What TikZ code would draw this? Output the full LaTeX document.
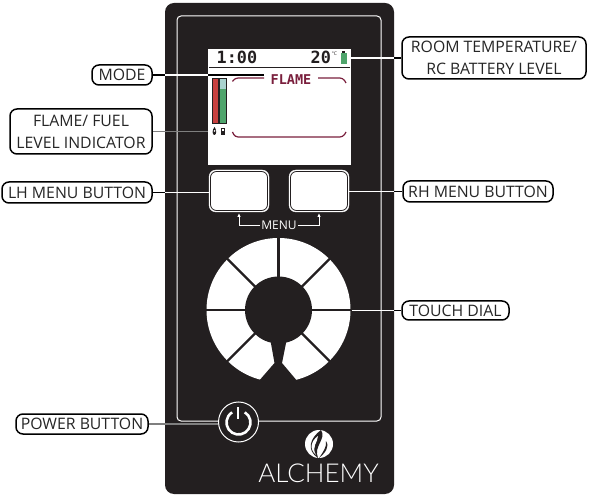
\documentclass[tikz,border=0pt]{standalone}
\usepackage{fontspec}
\usetikzlibrary{arrows.meta}
\setmainfont{Open Sans}
\newfontfamily\lcdfont{DejaVu Sans Mono}
\newfontfamily\logofont{Lato Light}
\definecolor{panel}{HTML}{231F20}
\definecolor{maroon}{HTML}{7A1F3D}
\definecolor{barred}{HTML}{C8403F}
\definecolor{bargreen}{HTML}{4FA56C}
\definecolor{barteal}{HTML}{A9D3CF}
\definecolor{leader}{HTML}{7F7F7F}
\tikzset{
  callout/.style={draw=black,line width=1.5pt,rounded corners=7pt,fill=white,inner sep=0pt,align=center,font=\fontsize{15.8}{22}\selectfont,text=black!85},
  blackline/.style={draw=black,line width=1.1pt},
  whiteline/.style={draw=white,line width=1.1pt},
  greyline/.style={draw=leader,line width=1.3pt},
  softkey/.style={draw=white,fill=white,rounded corners=7pt,minimum width=60pt,minimum height=42pt,inner sep=0pt},
  lcd/.style={font=\lcdfont\bfseries\fontsize{16.8}{17}\selectfont,inner sep=0pt,text=panel},
  frameline/.style={draw=maroon,line width=1.2pt,rounded corners=3pt},
}
\begin{document}
\begin{tikzpicture}[x=1pt,y=-1pt]
\useasboundingbox (0,0) rectangle (597,502);
% body
\fill[white] (0,0) rectangle (597,502);
\node[draw=none,fill=panel,rounded corners=9pt,minimum width=229pt,minimum height=491pt,inner sep=0pt] (body) at (279.5,248.5) {};
\node[draw=white,line width=1pt,rounded corners=4pt,minimum width=204pt,minimum height=405pt,inner sep=0pt] (inner) at (279,218.5) {};
% screen
\node[fill=white,minimum width=143pt,minimum height=116pt,inner sep=0pt] (screen) at (279.5,107) {};
\node[lcd,anchor=base west] (clock) at (216.5,64) {1:00};
\node[lcd,anchor=base west] (temp) at (310.5,64) {20};
\node[inner sep=0pt,font=\fontsize{5}{5}\selectfont,text=panel] (deg) at (334.5,53.5) {°C};
\fill[bargreen] (340.5,53) rectangle (346.5,64);
\fill[panel] (342,51.5) rectangle (345,53);
\draw[panel,line width=1.5pt] (209,67.5) -- (350,67.5);
\node[inner sep=0pt,text=maroon,font=\lcdfont\bfseries\fontsize{13.5}{14}\selectfont] (flame) at (291,79.5) {FLAME};
\draw[frameline] (264,78) -- (235,78) -- (232.5,81.5);
\draw[frameline] (318,78) -- (343,78) -- (346,83);
\draw[frameline] (232.5,132) -- (235,137) -- (343,137) -- (346,132);
\draw[panel,line width=.6pt,fill=barred] (212.5,78.5) rectangle (218.5,123);
\draw[panel,line width=.6pt,fill=bargreen] (219.5,78.5) rectangle (226,123);
\fill[barteal] (219.9,78.9) rectangle (225.6,89);
\fill[panel] (214.5,127) .. controls (216.5,130) and (217,134) .. (214.5,135) .. controls (212,135) and (212,130) .. (214.5,127) -- cycle;
\fill[white] (214.6,131) circle (.9pt);
\fill[panel] (221,128) rectangle (225,135);
\fill[white] (222,129) rectangle (224,131);
% soft keys
\node[softkey] (lh) at (239,191) {};
\node[softkey] (rh) at (319,191) {};
\draw[panel,line width=.8pt,rounded corners=6pt] (210.5,171.5) rectangle (267.5,210.5);
\draw[panel,line width=.8pt,rounded corners=6pt] (290.5,171.5) rectangle (347.5,210.5);
\node[inner sep=1pt,text=white,font=\fontsize{12}{12}\selectfont] (menu) at (279,225) {MENU};
\draw[white,line width=.8pt,-{Latex[length=4pt,width=3.5pt]}] (menu.west) -- (239,225) -- (239,213);
\draw[white,line width=.8pt,-{Latex[length=4pt,width=3.5pt]}] (menu.east) -- (319,225) -- (319,213);
% dial
\coordinate (dialc) at (278.5,310);
\fill[white] (dialc) circle (72);
\foreach \a in {0,45,135,180,225,270,315}{
  \draw[panel,line width=2.4pt] (dialc) -- ++(\a:73);
}
\fill[panel] (dialc) circle (33.5);
\fill[panel] (270,338) -- (274.5,363) -- (258,382) -- (298,382) -- (282,363) -- (287,338) -- cycle;
% power
\node[circle,draw=white,fill=panel,line width=1pt,minimum size=40pt,inner sep=0pt] (power) at (238.5,422) {};
\draw[white,line width=2.6pt] (238.5,422.5)++(-58:12) arc (-58:238:12);
\draw[white,line width=2.4pt] (238,407.5) -- (238,419);
% logo
\fill[white] (319,444) circle (14);
\fill[panel] (321,430) .. controls (327,439) and (313,446) .. (318,458) .. controls (306,450) and (310,438) .. (321,430) -- cycle;
\fill[white] (318,436) .. controls (318,442) and (311,447) .. (316,455) .. controls (309,449) and (311,441) .. (318,436) -- cycle;
\fill[panel] (326,441) .. controls (330,447) and (325,453) .. (319,458) .. controls (323,452) and (327,447) .. (326,441) -- cycle;
\node[inner sep=0pt,text=white,font=\logofont\fontsize{26}{26}\selectfont] (logo) at (318.5,473) {ALCHEMY};
% callouts
\node[callout,minimum width=60pt,minimum height=20pt] (mode) at (122,75) {MODE};
\node[callout,minimum width=142pt,minimum height=45pt] (level) at (81,131.5) {FLAME/ FUEL\\LEVEL INDICATOR};
\node[callout,minimum width=150pt,minimum height=21pt] (lhl) at (77,192.5) {LH MENU BUTTON};
\node[callout,minimum width=184pt,minimum height=42pt] (room) at (494,58) {ROOM TEMPERATURE/\\RC BATTERY LEVEL};
\node[callout,minimum width=150pt,minimum height=21pt] (rhl) at (478,191.5) {RH MENU BUTTON};
\node[callout,minimum width=107pt,minimum height=19pt] (touch) at (455.5,310.5) {TOUCH DIAL};
\node[callout,minimum width=132pt,minimum height=20pt] (powerl) at (82,424) {POWER BUTTON};
% leaders
\coordinate (edgel) at (165,0);
\coordinate (edger) at (394,0);
\draw[blackline] (mode.east) -- (mode.east -| edgel);
\draw[whiteline] (mode.east -| edgel) -- (mode.east -| screen.west);
\draw[blackline] (mode.east -| screen.west) -- (264,75);
\draw[greyline] (level.east) -- (level.east -| screen.west);
\draw[blackline] (lhl.east) -- (lhl.east -| edgel);
\draw[whiteline] (lhl.east -| edgel) -- (lhl.east -| lh.west);
\draw[blackline] (room.west) -- (room.west -| edger);
\draw[whiteline] (room.west -| edger) -- (room.west -| screen.east);
\draw[blackline] (rhl.west) -- (rhl.west -| edger);
\draw[whiteline] (rhl.west -| edger) -- (rhl.west -| rh.east);
\draw[blackline] (touch.west) -- (touch.west -| edger);
\draw[whiteline] (touch.west -| edger) -- (351.5,310.5);
\draw[greyline] (powerl.east) -- (power.west |- powerl.east);
\end{tikzpicture}
\end{document}
